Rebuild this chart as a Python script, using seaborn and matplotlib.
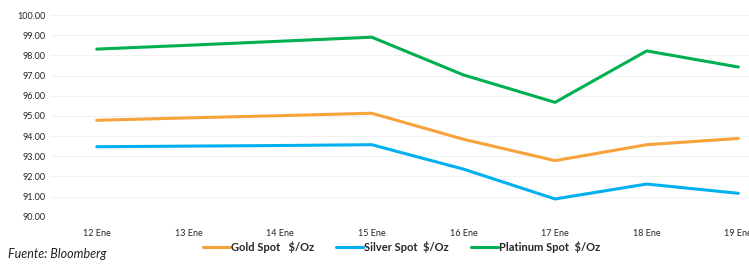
import matplotlib
matplotlib.use("Agg")
import matplotlib.pyplot as plt
import seaborn as sns
import pandas as pd

days = ["12 Ene", "13 Ene", "14 Ene", "15 Ene", "16 Ene", "17 Ene", "18 Ene", "19 Ene"]
gold = [94.78, 94.90, 95.01, 95.13, 93.84, 92.78, 93.57, 93.88]
silver = [93.47, 93.50, 93.53, 93.57, 92.36, 90.88, 91.62, 91.16]
platinum = [98.31, 98.50, 98.70, 98.90, 97.03, 95.67, 98.22, 97.42]
series_names = ["Gold Spot   $/Oz", "Silver Spot  $/Oz", "Platinum Spot  $/Oz"]
colors = ["#F7A23B", "#00B0F0", "#00B050"]

df = pd.DataFrame({"day": days * 3,
                   "value": gold + silver + platinum,
                   "serie": [series_names[0]] * 8 + [series_names[1]] * 8 + [series_names[2]] * 8})

sns.set_theme(style="white")
plt.rcParams["font.family"] = ["Lato", "DejaVu Sans"]

fig = plt.figure(figsize=(7.49, 2.66), dpi=100)
ax = fig.add_axes([0.068, 0.1853, 0.979, 0.7583])

sns.lineplot(data=df, x="day", y="value", hue="serie", palette=colors,
             linewidth=2.2, sort=False, ax=ax, legend=False)

ax.set_xlim(-0.5, 7.5)
ax.set_ylim(90, 100)
ax.set_yticks(range(90, 101))
ax.set_yticklabels([f"{v:.2f}" for v in range(90, 101)], fontsize=6.5)
ax.set_xticks(range(len(days)))
ax.set_xticklabels(days, fontsize=6.5)
ax.tick_params(axis="x", pad=9, length=0)
ax.tick_params(axis="y", pad=4, length=0)
ax.yaxis.grid(True, color="#F2F2F2", linewidth=0.8)
ax.set_xlabel("")
ax.set_ylabel("")
for s in ax.spines.values():
    s.set_visible(False)

handles = [plt.Line2D([], [], color=c, linewidth=2.2) for c in colors]
leg = fig.legend(handles, series_names, loc="center", bbox_to_anchor=(0.536, 0.072),
                 ncol=3, frameon=False, handlelength=2.4, handletextpad=0.1,
                 columnspacing=2.0, prop={"weight": "bold", "size": 8})

fig.text(0.011, 0.03, "Fuente: Bloomberg", fontsize=9, style="italic", color="#222222")

fig.savefig("out.png", dpi=100)
